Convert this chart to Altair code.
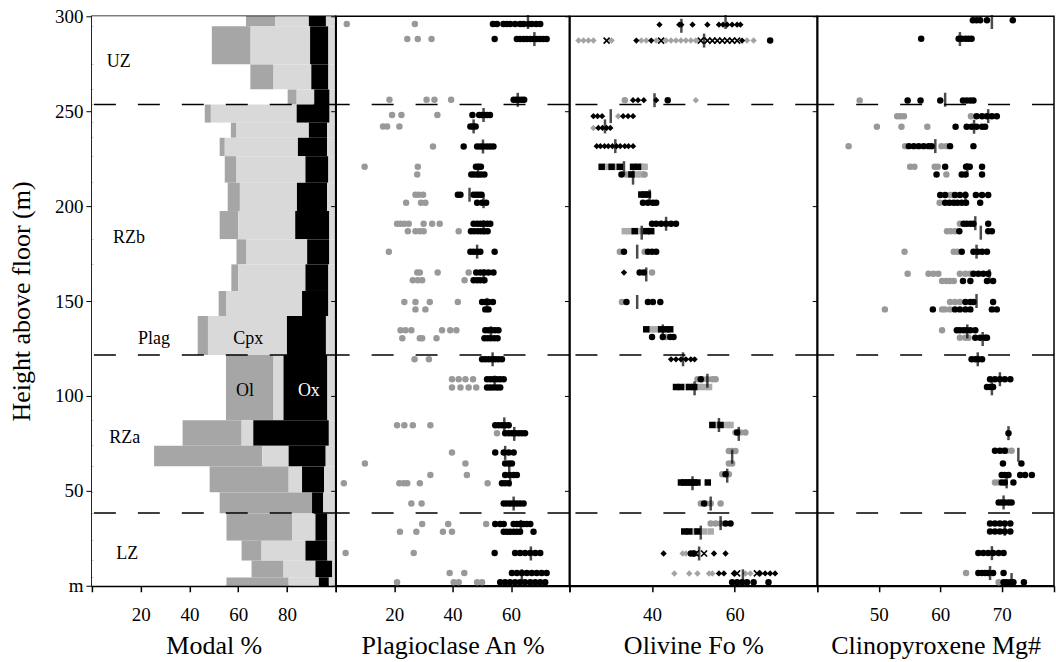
import altair as alt
import pandas as pd

FONT = "Liberation Serif"
PH = 570
GRAY = "#999999"

# ---------------- Modal % (stacked step columns) ----------------
modal_top = [300, 294.7, 274.6, 261.4, 253.5, 243.9, 236, 226.3, 212.3, 197.4, 182.5, 169.3,
             155.3, 142.1, 121.6, 87.2, 73.7, 62.8, 49.1, 38.1, 23.7, 13.2, 4.4]
plag_end = [63.2, 49.2, 65.0, 80.3, 46.3, 57.0, 52.4, 54.5, 55.7, 52.4, 59.3, 57.2,
            52.0, 43.4, 55.0, 37.2, 25.5, 48.3, 52.4, 55.2, 61.4, 65.5, 55.2]
ol_end = [75.2, 65.1, 74.5, 84.0, 48.8, 59.3, 54.5, 59.3, 60.7, 60.0, 63.4, 60.0,
          55.2, 47.6, 74.5, 61.4, 69.9, 80.7, 90.3, 82.1, 69.6, 78.6, 80.7]
cpx_end = [89.0, 89.5, 90.0, 91.2, 84.0, 89.0, 84.5, 87.6, 84.1, 83.4, 88.3, 87.6,
           86.2, 80.0, 78.6, 66.2, 80.7, 86.2, 90.3, 91.7, 87.6, 91.7, 93.1]
ox_end = [96.0, 97.0, 97.0, 97.5, 97.5, 96.5, 96.5, 97.0, 96.5, 97.4, 97.4, 97.0,
          97.0, 96.0, 96.6, 97.2, 95.9, 95.2, 94.9, 96.6, 96.6, 98.6, 97.2]
minerals = ["Plag", "Ol", "Cpx", "Ox", "Other"]
mineral_colors = ["#ffffff", "#a6a6a6", "#d9d9d9", "#000000", "#d9d9d9"]

zone_text = ["UZ", "RZb", "Plag", "Cpx", "Ol", "Ox", "RZa", "LZ"]
zone_tx = [11, 15.2, 25.5, 64.1, 62.8, 89, 13.5, 14.5]
zone_ty = [276, 183, 129.8, 129.8, 102.6, 102.6, 78, 16.7]
zone_col = ["black", "black", "black", "black", "black", "white", "black", "black"]
zone_bounds = [253.5, 121.6, 38.3]

# ---------------- Plagioclase An % ----------------
an_h = [296, 288, 256, 248, 242, 231.4, 220.7, 216.7, 206, 201.8, 190.7, 186.8, 176, 165, 160.9,
        149.5, 145.6, 134.6, 130.4, 119.3, 108.8, 104.4, 84.6, 80.4, 70.2, 64.4, 58.4, 54, 43.3,
        32.5, 28.4, 17.2, 6.7, 1.8]
an_black = [
    [53.8, 55.2, 57.4, 58.6, 59.7, 61.4, 63.1, 64.3, 66.0, 67.1, 68.6, 70.0],
    [54.4, 62.0, 63.1, 64.3, 65.4, 66.6, 67.7, 68.8, 70.0, 71.1, 72.2],
    [60.9, 61.8, 62.7, 63.7, 64.5],
    [46.8, 49.1, 50.0, 51.0, 51.9, 52.8],
    [46.1, 47.0, 47.9],
    [43.8, 48.4, 49.5, 50.6, 51.8, 52.9, 54.0],
    [48.0, 48.9, 49.7],
    [46.4, 47.4, 48.6, 49.7, 50.9],
    [41.8, 42.7, 47.2, 48.1, 49.0, 49.9],
    [48.4, 50.1, 51.5],
    [47.2, 48.4, 49.5, 50.6, 51.8, 52.9],
    [46.3, 47.4, 48.6, 49.7, 50.9, 52.0],
    [46.1, 47.2, 48.4, 49.5, 54.4],
    [48.1, 49.5, 50.9, 52.3, 54.0],
    [47.2, 48.4, 49.5, 50.9],
    [50.1, 51.2, 52.3, 53.8],
    [51.2, 52.3],
    [51.2, 52.3, 53.5, 54.6, 55.7],
    [50.9, 52.0, 53.1, 54.3, 55.4],
    [50.1, 51.2, 52.3, 53.5, 54.6, 55.7, 56.9],
    [51.8, 52.9, 54.0, 55.2, 56.3, 57.5],
    [51.8, 52.9, 54.0, 55.2, 56.3],
    [54.6, 55.7, 56.9, 58.0, 59.2],
    [58.0, 59.2, 60.3, 61.4, 62.6, 63.7, 64.8],
    [54.6, 57.5, 59.2, 60.9],
    [58.0, 59.2, 60.3],
    [58.0, 59.5, 60.9, 62.0],
    [56.9, 58.0, 59.2],
    [57.5, 58.6, 59.7, 60.9, 62.0, 63.1, 64.3],
    [54.6, 56.3, 57.5, 60.9, 62.0, 63.1, 64.3, 65.4, 66.6],
    [57.5, 58.6, 59.7, 60.9, 62.0, 63.1, 67.7],
    [54.4, 61.4, 63.1, 64.8, 66.6, 68.3, 70.0],
    [60.3, 62.0, 63.7, 65.4, 67.1, 68.8, 70.5, 72.2],
    [56.3, 58.0, 59.7, 61.4, 63.1, 64.8, 66.6, 68.3, 70.0, 71.7],
]
an_gray = [
    [3.8, 27.1], [24.5, 28.1, 32.8], [18.4, 31.1, 33.8, 39.5], [19.3, 22.5, 34.8],
    [16.2, 17.6, 21.8], [33.3], [9.9, 28.1], [27.9], [27.3, 28.4, 29.9], [24.1, 29.2, 30.7],
    [21.0, 22.2, 23.5, 25.0, 30.1, 33.0, 35.6], [24.7, 27.3, 28.8, 30.1, 42.1], [18.2],
    [27.9, 28.8, 34.9, 45.5], [26.4, 28.1, 29.6, 44.1], [23.5, 27.3, 32.2, 41.8], [27.3, 30.7],
    [22.2, 23.9, 25.9, 36.4, 39.2, 41.3], [22.8, 28.8, 29.6, 34.5], [27.0, 31.9],
    [39.8, 42.1, 44.4, 47.0], [39.8, 42.7, 45.5, 48.1], [21.0, 23.5, 26.4, 32.4], [55.2, 60.9],
    [39.8], [10.0, 44.4], [32.4, 44.9], [2.8, 21.8, 23.3, 24.5, 28.8, 52.0], [25.9, 29.4],
    [29.6, 38.5, 51.5], [22.0, 27.6, 36.7, 39.8], [3.4, 26.7], [39.0, 44.0],
    [21.0, 40.4, 42.1, 48.4, 50.1],
]
an_mean_h = [297, 288, 256, 248, 242, 231.4, 218.7, 206, 202.6, 188.8, 176, 163, 148, 133, 119.3,
             107, 85, 80, 70, 62, 56, 43.3, 31, 17, 5]
an_mean_v = [65.8, 68.0, 62.3, 50.6, 47.2, 50.4, 48.7, 45.8, 50.6, 50.6, 48.4, 50.6, 51.8, 53.1,
             53.7, 54.4, 57.7, 61.1, 58.0, 59.4, 59.7, 60.9, 63.4, 66.8, 63.7]

# ---------------- Olivine Fo % ----------------
# bd/gd = black/gray diamond, bc/gc = circle, bs/gs = square, x = cross
ol_h = [295.6, 287.2, 255.8, 247.4, 241.2, 231.6, 220.7, 216.7, 206.1, 201.8, 190.7, 186.8, 176,
        165, 149.5, 135.1, 131, 119.3, 108.8, 104.7, 84.7, 80.7, 71, 64.4, 58.8, 54.4, 43.3, 32.8,
        28.6, 17, 6.5, 1.8]
ol_pts = [
    {"bd": [41.8, 46.6, 47.1, 49.8, 53.4, 56.2, 57.2, 58.2, 59.4, 60.6, 61.4]},
    {"gd": [22.2, 23.4, 24.6, 25.8, 30.2, 37.4, 38.6, 41.0, 43.4, 44.6, 45.8, 47.0, 48.2, 49.4,
            50.6, 63.0, 64.6],
     "x": [29.0, 42.2, 51.8, 53.4, 54.6, 55.8, 57.0, 58.2, 59.4, 60.6],
     "bd": [36.2, 39.8, 61.8], "bc": [68.6]},
    {"gc": [33.4], "bd": [35.4, 36.6, 38.0, 41.0], "bc": [43.8], "gd": [50.6]},
    {"bd": [25.8, 26.8, 27.9, 33.0, 34.2, 35.4], "gd": [31.8]},
    {"gd": [25.8], "bd": [27.0, 28.0, 29.0, 29.9]},
    {"bd": [26.6, 27.5, 28.5, 29.4, 30.4, 31.4, 32.3, 33.4, 34.3, 35.4]},
    {"bs": [27.8, 30.2, 32.2, 35.4, 36.6], "gs": [29.0, 31.0, 37.4, 38.2]},
    {"bc": [32.6], "gc": [33.8, 38.2], "bs": [35.0], "gs": [36.2, 37.4]},
    {"bs": [37.4, 38.2, 39.0]},
    {"bc": [37.8, 39.0, 40.2, 41.0]},
    {"bc": [40.0, 41.0, 42.2, 43.4, 44.6, 45.8]},
    {"gs": [33.4, 34.6, 37.0], "bs": [35.8, 38.6, 39.8]},
    {"gc": [32.2, 38.2], "bc": [33.2, 39.0, 40.0, 41.0]},
    {"bd": [33.2], "bc": [37.0, 38.0], "gc": [40.0]},
    {"gc": [32.7], "bc": [33.8, 39.0, 40.2, 42.0]},
    {"bs": [38.6, 42.2, 43.4, 44.4], "gs": [39.8, 41.0]},
    {"bc": [40.0, 42.6, 44.4, 45.2], "gc": [43.4]},
    {"bd": [44.6, 45.8, 47.0, 48.2, 49.4, 50.3]},
    {"gc": [51.0, 52.2, 53.4, 54.6, 55.4], "bc": [51.8]},
    {"bs": [45.8, 47.0, 49.0, 50.2], "gs": [48.2, 51.4, 52.6, 53.8]},
    {"bs": [54.6, 56.6], "gs": [55.8, 58.2, 59.0]},
    {"gc": [60.2, 61.4, 62.6], "bc": [60.6]},
    {"gc": [58.6, 59.4, 60.2]},
    {"gc": [58.6, 59.4]},
    {"gc": [57.0, 58.6], "bc": [57.8]},
    {"bs": [47.0, 47.8, 48.6, 49.4, 50.2, 51.0, 53.5]},
    {"gc": [51.8, 53.0, 54.2, 56.6], "bc": [52.6]},
    {"gc": [54.2, 55.4, 56.6], "bc": [57.8, 59.0]},
    {"bs": [47.8, 49.0, 51.0], "gs": [50.2, 52.6, 54.2]},
    {"bd": [42.8, 55.0, 57.8], "gd": [47.4, 48.2], "bc": [49.4, 50.2], "x": [50.6, 52.6]},
    {"gd": [45.4, 49.0, 51.0, 53.8, 54.6, 62.6, 63.8],
     "bd": [56.2, 57.4, 59.8, 66.2, 67.4, 68.6, 69.8], "x": [60.6, 65.4]},
    {"bc": [59.4, 60.6, 61.8, 63.0, 64.6, 68.2]},
]
ol_mean_h = [295, 297, 287.2, 255.8, 247.4, 242, 231.6, 220, 215, 205, 190.7, 186, 176, 164, 149.5,
             134, 119.3, 108, 104, 84.7, 80, 68, 58, 54, 43.3, 33, 28, 17, 5]
ol_mean_v = [47.1, 57.8, 52.6, 40.6, 30.0, 28.6, 31.1, 33.2, 35.4, 39.4, 43.4, 37.5, 36.4, 38.6,
             36.4, 42.6, 47.5, 53.4, 50.3, 56.2, 61.0, 59.4, 58.2, 49.8, 54.2, 56.6, 51.8, 51.4, 62.0]

# ---------------- Clinopyroxene Mg# ----------------
cpx_h = [297.9, 288.2, 255.6, 247.4, 241.8, 231.6, 220.7, 216.7, 205.8, 201.8, 190.7, 186.8, 176,
         164.4, 160.5, 149.5, 145.6, 134.6, 130.7, 119.3, 108.8, 104.7, 80.4, 71.1, 64.4, 58.4,
         54.4, 43.9, 32.8, 28.6, 17.2, 6.7, 1.8]
cpx_black = [
    [65.3, 65.9, 66.5, 67.6, 71.8], [56.9, 63.0, 63.5, 64.1, 64.6, 65.1],
    [54.7, 56.8, 60.0, 63.7, 64.3, 64.9, 65.4], [65.9, 66.8, 67.6, 68.4, 69.2],
    [62.5, 64.3, 65.1, 65.9, 66.8, 67.3], [54.9, 55.7, 56.5, 57.3, 58.1, 58.6, 61.6, 65.4],
    [60.8, 64.2, 64.8, 66.8], [59.4, 63.5, 64.1, 66.8],
    [60.0, 60.8, 62.4, 63.2, 64.1, 65.8, 66.8, 67.8], [60.8, 61.5, 62.2, 62.8, 63.5, 64.2, 66.5],
    [63.8, 64.3, 64.9, 65.4, 67.8], [63.1, 67.8, 68.4], [63.5, 65.4, 66.1, 66.8, 67.6],
    [65.4, 66.2, 67.0, 67.8], [63.7, 64.9, 67.6, 68.6], [64.1, 64.9, 65.4, 68.6],
    [58.8, 62.4, 63.2, 64.1, 64.9, 68.4, 69.2], [62.7, 63.2, 63.8, 64.3, 64.9, 65.7],
    [65.7, 66.5, 67.3, 67.6], [65.1, 65.7, 66.2, 66.8], [68.1, 68.9, 69.7, 70.5, 71.4],
    [67.6, 68.1, 68.6], [71.1], [68.9, 69.7, 70.5], [70.2, 73.2],
    [70.0, 70.5, 71.1, 73.0, 73.8, 74.9], [70.0, 70.5, 71.9], [69.5, 70.0, 70.5, 71.1, 71.6],
    [68.1, 68.9, 69.7, 70.5, 71.4], [68.1, 68.9, 69.7, 70.5, 71.4],
    [66.2, 67.0, 67.8, 68.6, 69.5, 70.3], [66.2, 66.8, 67.3, 67.8, 68.6, 70.3],
    [70.3, 70.8, 71.4, 71.9, 73.6],
]
cpx_gray = [
    [], [], [46.9], [53.0, 53.5, 54.1, 65.0], [49.7, 53.7, 57.9], [45.1, 54.3, 60.2, 61.0],
    [55.1, 55.8, 59.1, 59.6], [61.0], [61.6, 62.0], [59.9], [63.2], [61.1, 61.7, 62.4],
    [54.2, 62.2, 62.8], [54.7, 58.1, 58.9, 59.7, 63.2, 64.1, 64.9], [60.3, 61.0, 61.6, 62.2],
    [61.6, 62.4, 63.2], [51.0, 60.3, 60.8, 61.6], [60.3], [63.2, 64.1, 64.6], [], [], [], [],
    [70.3, 70.8, 71.6], [], [], [68.9, 69.5], [], [], [], [], [64.2], [69.5],
]
cpx_mean_h = [297, 288, 256, 247.4, 241.8, 231.6, 219, 204, 191, 186, 176, 163, 150, 134, 130,
              119.3, 108.8, 104, 80.4, 69, 55, 43.9, 30, 17.2, 6.7, 3]
cpx_mean_v = [68.4, 63.2, 60.8, 67.8, 65.5, 59.2, 64.4, 64.1, 65.7, 66.6, 65.9, 68.0, 65.9, 64.4,
              66.9, 66.1, 69.7, 68.4, 71.1, 72.7, 70.8, 70.3, 70.5, 68.4, 68.1, 71.6]

# ---------------- build tables ----------------
modal_rows = []
for i, top in enumerate(modal_top):
    bot = modal_top[i + 1] if i + 1 < len(modal_top) else 0
    b = [0, plag_end[i], ol_end[i], cpx_end[i], ox_end[i], 100]
    for j, m in enumerate(minerals):
        modal_rows.append({"top": top, "bot": bot, "lo": b[j], "hi": b[j + 1], "mineral": m})
modal_df = pd.DataFrame(modal_rows)
zone_df = pd.DataFrame({"t": zone_text, "tx": zone_tx, "ty": zone_ty, "c": zone_col})
bound_df = pd.DataFrame({"h": zone_bounds})


def rows_bg(hs, blacks, grays):
    out = []
    for h, bl, gr in zip(hs, blacks, grays):
        out += [{"h": h, "v": v, "k": "gc"} for v in gr]
        out += [{"h": h, "v": v, "k": "bc"} for v in bl]
    return pd.DataFrame(out)


an_df = rows_bg(an_h, an_black, an_gray)
cpx_df = rows_bg(cpx_h, cpx_black, cpx_gray)
ol_df = pd.DataFrame([{"h": h, "v": v, "k": k} for h, d in zip(ol_h, ol_pts)
                      for k, vals in d.items() for v in vals])
an_mean = pd.DataFrame({"h": an_mean_h, "v": an_mean_v})
ol_mean = pd.DataFrame({"h": ol_mean_h, "v": ol_mean_v})
cpx_mean = pd.DataFrame({"h": cpx_mean_h, "v": cpx_mean_v})

YVALS = [0, 50, 100, 150, 200, 250, 300]
yscale = alt.Scale(domain=[0, 300], nice=False, zero=False)
y_axis_main = alt.Axis(values=YVALS, labelExpr="datum.value == 0 ? 'm' : datum.label",
                       title="Height above floor (m)", titleFontSize=26, labelFontSize=19,
                       labelFont=FONT, titleFont=FONT, titleFontWeight="normal",
                       labelFontWeight="normal",
                       tickSize=6, labelPadding=3, titlePadding=20, domainWidth=2, grid=False)
y_axis_side = alt.Axis(values=YVALS, labels=False, title=None, tickSize=5, domainWidth=1.5,
                       grid=False)


def xaxis(title, vals, hide):
    expr = " || ".join(f"datum.value == {h}" for h in hide) + " ? '' : datum.label"
    return alt.Axis(values=vals, labelExpr=expr, title=title, titleFontSize=26, labelFontSize=19,
                    labelFont=FONT, titleFont=FONT, titleFontWeight="normal",
                    labelFontWeight="normal",
                    tickSize=6, tickWidth=1.5, labelPadding=14, titlePadding=8, domainWidth=2,
                    grid=False)


# Panel 1: modal
mx_scale = alt.Scale(domain=[0, 100], nice=False, zero=False)
mx_axis = xaxis("Modal %", [0, 20, 40, 60, 80, 100], [0, 100])
rects = alt.Chart(modal_df).mark_rect(stroke=None).encode(
    x=alt.X("lo:Q", scale=mx_scale, axis=mx_axis),
    x2="hi:Q",
    y=alt.Y("top:Q", scale=yscale, axis=y_axis_main),
    y2="bot:Q",
    color=alt.Color("mineral:N", scale=alt.Scale(domain=minerals, range=mineral_colors), legend=None),
)
labels = alt.Chart(zone_df).mark_text(font=FONT, fontSize=18, align="center", baseline="middle").encode(
    x=alt.X("tx:Q", scale=mx_scale, axis=mx_axis),
    y=alt.Y("ty:Q", scale=yscale, axis=y_axis_main),
    text="t:N",
    color=alt.Color("c:N", scale=None),
)
rule1 = alt.Chart(bound_df).mark_rule(color="black", strokeWidth=1.5, strokeDash=[22, 22]).encode(
    y=alt.Y("h:Q", scale=yscale, axis=y_axis_main))
p1 = alt.layer(rects, rule1, labels).properties(width=244, height=PH)


def scatter_panel(df, mean_df, dom, vals, hide, title, width):
    xs = alt.Scale(domain=dom, nice=False, zero=False)
    xa = xaxis(title, vals, hide)
    X = alt.X("v:Q", scale=xs, axis=xa)
    Y = alt.Y("h:Q", scale=yscale, axis=y_axis_side)
    base = alt.Chart(df)
    layers = [alt.Chart(bound_df).mark_rule(color="black", strokeWidth=1.5,
                                             strokeDash=[22, 22]).encode(y=Y)]
    specs = [
        ("gd", dict(shape="diamond", filled=True, color="#a3a3a3", size=42)),
        ("gs", dict(shape="square", filled=True, color="#ababab", size=42)),
        ("gc", dict(shape="circle", filled=True, color=GRAY, size=42)),
        ("bs", dict(shape="square", filled=True, color="black", size=42)),
        ("bd", dict(shape="diamond", filled=True, color="black", size=40)),
        ("bc", dict(shape="circle", filled=True, color="black", size=42)),
        ("x", dict(shape="M-1,-1L1,1M-1,1L1,-1", filled=False, color="black", size=36,
                   strokeWidth=1.6)),
    ]
    present = set(df["k"])
    for k, kw in specs:
        if k in present:
            layers.append(base.transform_filter(alt.datum.k == k).mark_point(opacity=1, **kw)
                          .encode(x=X, y=Y))
    layers.append(alt.Chart(mean_df).mark_tick(orient="vertical", color="black", size=14,
                                               thickness=2.5).encode(x=X, y=Y))
    return alt.layer(*layers).properties(width=width, height=PH)


p2 = scatter_panel(an_df, an_mean, [0, 80], [0, 20, 40, 60, 80], [0, 80], "Plagioclase An %", 234)
p3 = scatter_panel(ol_df, ol_mean, [20, 80], [20, 40, 60, 80], [20, 80], "Olivine Fo %", 248)
p4 = scatter_panel(cpx_df, cpx_mean, [40, 78.5], [40, 50, 60, 70, 78.5], [40, 78.5],
                   "Clinopyroxene Mg#", 237)

chart = alt.hconcat(p1, p2, p3, p4, spacing=0, bounds="flush").properties(
    padding={"left": 7, "top": 6, "right": 0, "bottom": 0}
).configure(
    font=FONT,
    style={"guide-label": {"font": FONT}, "guide-title": {"font": FONT}},
).configure_view(stroke="black", strokeWidth=1.5).configure_axis(
    domainColor="black", tickColor="black", labelColor="black", titleColor="black",
    labelFont=FONT, titleFont=FONT, titleFontWeight="normal"
).configure_text(font=FONT)

chart.save("out.html", embed_options={"renderer": "svg", "actions": False})
